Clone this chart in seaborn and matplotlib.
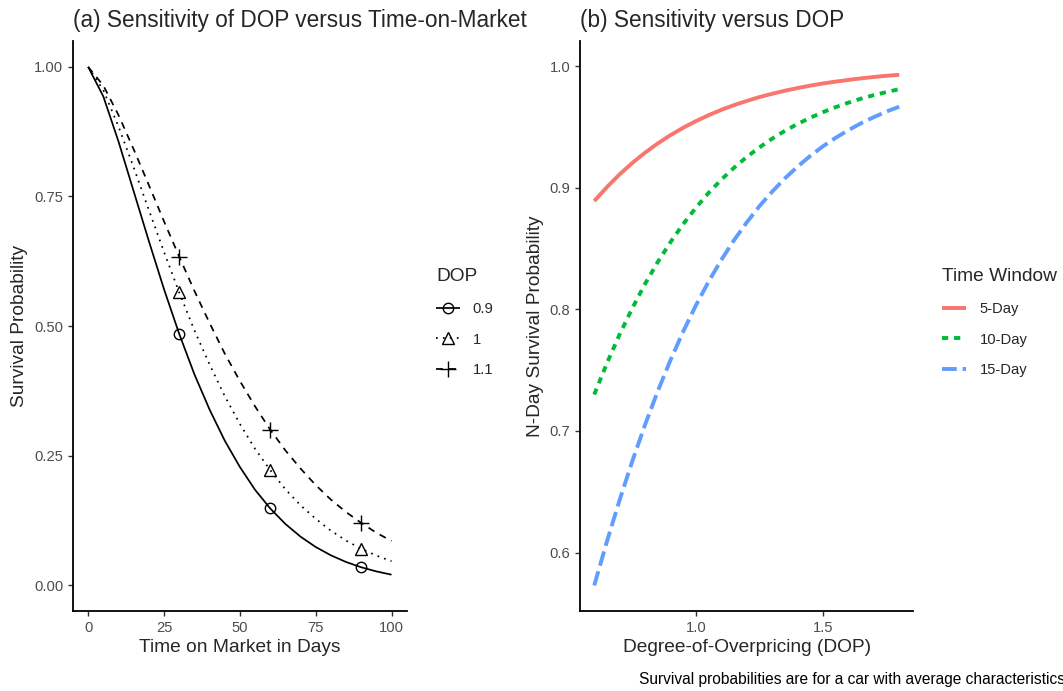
import numpy as np
import pandas as pd
import matplotlib
matplotlib.use("Agg")
import matplotlib.pyplot as plt
from matplotlib.lines import Line2D
import seaborn as sns

# ---------------- Panel (a): survival vs time on market ----------------
days = [0, 5, 10, 15, 20, 25, 30, 35, 40, 45, 50, 55, 60, 65, 70, 75, 80, 85, 90, 95, 100]
surv_dop_09 = [1.000, 0.943, 0.856, 0.760, 0.664, 0.571, 0.485, 0.407, 0.339, 0.279, 0.228,
               0.184, 0.148, 0.118, 0.0935, 0.0735, 0.0575, 0.0446, 0.0344, 0.0264, 0.0201]
surv_dop_10 = [1.000, 0.955, 0.885, 0.806, 0.724, 0.643, 0.565, 0.492, 0.426, 0.365, 0.311,
               0.263, 0.222, 0.185, 0.154, 0.128, 0.105, 0.086, 0.070, 0.057, 0.046]
surv_dop_11 = [1.000, 0.964, 0.907, 0.841, 0.772, 0.702, 0.634, 0.568, 0.506, 0.447, 0.394,
               0.345, 0.300, 0.260, 0.225, 0.193, 0.165, 0.141, 0.120, 0.101, 0.085]
dop_levels = ["0.9", "1", "1.1"]
marker_days = [30, 60, 90]

# ---------------- Panel (b): N-day survival vs DOP ----------------
dop_grid = [0.60, 0.65, 0.70, 0.75, 0.80, 0.85, 0.90, 0.95, 1.00, 1.05, 1.10, 1.15, 1.20,
            1.25, 1.30, 1.35, 1.40, 1.45, 1.50, 1.55, 1.60, 1.65, 1.70, 1.75, 1.80]
surv_5day = [0.8890, 0.9005, 0.9110, 0.9204, 0.9288, 0.9364, 0.9432, 0.9493, 0.9547, 0.9596,
             0.9640, 0.9679, 0.9713, 0.9745, 0.9772, 0.9797, 0.9819, 0.9839, 0.9857, 0.9872,
             0.9886, 0.9899, 0.9910, 0.9920, 0.9928]
surv_10day = [0.7300, 0.7557, 0.7794, 0.8010, 0.8209, 0.8389, 0.8552, 0.8701, 0.8835, 0.8957,
              0.9066, 0.9164, 0.9252, 0.9331, 0.9403, 0.9467, 0.9524, 0.9575, 0.9621, 0.9662,
              0.9699, 0.9732, 0.9761, 0.9786, 0.9810]
surv_15day = [0.5730, 0.6092, 0.6433, 0.6753, 0.7051, 0.7327, 0.7582, 0.7817, 0.8032, 0.8228,
              0.8406, 0.8568, 0.8714, 0.8848, 0.8967, 0.9076, 0.9173, 0.9261, 0.9340, 0.9410,
              0.9473, 0.9530, 0.9580, 0.9626, 0.9666]
windows = ["5-Day", "10-Day", "15-Day"]

a_xticks = [0, 25, 50, 75, 100]
a_yticks = [0.00, 0.25, 0.50, 0.75, 1.00]
a_yticklabels = ["0.00", "0.25", "0.50", "0.75", "1.00"]
b_xticks = [1.0, 1.5]
b_xticklabels = ["1.0", "1.5"]
b_yticks = [0.6, 0.7, 0.8, 0.9, 1.0]
b_yticklabels = ["0.6", "0.7", "0.8", "0.9", "1.0"]

# ---------------- Styling ----------------
sns.set_theme(style="ticks")
plt.rcParams["font.family"] = ["Liberation Sans", "DejaVu Sans"]
plt.rcParams["lines.solid_capstyle"] = "butt"
plt.rcParams["lines.dash_capstyle"] = "butt"

W, H = 1063, 691
fig = plt.figure(figsize=(W / 100, H / 100), dpi=100)
fig.patch.set_facecolor("white")

AX_TOP, AX_BOT = 41, 611
ax1 = fig.add_axes([73 / W, 1 - AX_BOT / H, (406.7 - 73) / W, (AX_BOT - AX_TOP) / H])
ax2 = fig.add_axes([580 / W, 1 - AX_BOT / H, (913.4 - 580) / W, (AX_BOT - AX_TOP) / H])

TICK_FS = 10.6
LAB_FS = 13.8
TITLE_FS = 16.3

# Panel (a)
dfa = pd.DataFrame({
    "days": days * 3,
    "surv": surv_dop_09 + surv_dop_10 + surv_dop_11,
    "dop": [dop_levels[0]] * len(days) + [dop_levels[1]] * len(days) + [dop_levels[2]] * len(days),
})
a_styles = {"0.9": "-", "1": (0, (1, 3)), "1.1": (0, (4, 3.5))}
a_markers = {"0.9": ("o", 7.5), "1": ("^", 8.5), "1.1": ("+", 11)}
mark_idx = [days.index(d) for d in marker_days]
a_lw = 1.25
for lvl in dop_levels:
    sub = dfa[dfa["dop"] == lvl].reset_index(drop=True)
    mk, ms = a_markers[lvl]
    sns.lineplot(data=sub, x="days", y="surv", ax=ax1, color="black", lw=a_lw,
                 linestyle=a_styles[lvl], errorbar=None, legend=False,
                 marker=mk, markevery=mark_idx, ms=ms, mfc="none", mec="black", mew=1.0)

ax1.set_xlim(-5, 105)
ax1.set_ylim(-0.05, 1.05)
ax1.set_xticks(a_xticks)
ax1.set_yticks(a_yticks)
ax1.set_yticklabels(a_yticklabels)
ax1.set_xlabel("Time on Market in Days", fontsize=LAB_FS, labelpad=3)
ax1.set_ylabel("Survival Probability", fontsize=LAB_FS, labelpad=4)
ax1.set_title("(a) Sensitivity of DOP versus Time-on-Market", loc="left",
              fontsize=TITLE_FS, pad=10)

# Panel (b)
dfb = pd.DataFrame({
    "dop": dop_grid * 3,
    "surv": surv_5day + surv_10day + surv_15day,
    "window": [windows[0]] * len(dop_grid) + [windows[1]] * len(dop_grid) + [windows[2]] * len(dop_grid),
})
b_palette = {"5-Day": "#F8766D", "10-Day": "#00BA38", "15-Day": "#619CFF"}
b_dashes = {"5-Day": "", "10-Day": (1.6, 1.5), "15-Day": (3.8, 1.5)}
b_lw = 2.8
sns.lineplot(data=dfb, x="dop", y="surv", hue="window", style="window",
             hue_order=windows, style_order=windows, palette=b_palette,
             dashes=b_dashes, lw=b_lw, ax=ax2, errorbar=None, legend=False)

ax2.set_xlim(0.544, 1.856)
ax2.set_ylim(0.552, 1.0206)
ax2.set_xticks(b_xticks)
ax2.set_xticklabels(b_xticklabels)
ax2.set_yticks(b_yticks)
ax2.set_yticklabels(b_yticklabels)
ax2.set_xlabel("Degree-of-Overpricing (DOP)", fontsize=LAB_FS, labelpad=3)
ax2.set_ylabel("N-Day Survival Probability", fontsize=LAB_FS, labelpad=4)
ax2.set_title("(b) Sensitivity versus DOP", loc="left", fontsize=TITLE_FS, pad=10)

for ax in (ax1, ax2):
    sns.despine(ax=ax)
    ax.spines["left"].set_linewidth(1.3)
    ax.spines["bottom"].set_linewidth(1.3)
    ax.spines["left"].set_color("black")
    ax.spines["bottom"].set_color("black")
    ax.tick_params(axis="both", labelsize=TICK_FS, colors="#333333", labelcolor="#4D4D4D",
                   length=3.5, width=1.0, pad=3.5)
    ax.set_facecolor("white")
    ax.grid(False)

# Legends
a_handles = []
for lvl in dop_levels:
    mk, ms = a_markers[lvl]
    a_handles.append(Line2D([], [], color="black", lw=a_lw, linestyle=a_styles[lvl],
                            marker=mk, ms=ms, mfc="none", mec="black", mew=1.0))
leg1 = fig.legend(a_handles, dop_levels, title="DOP", loc="upper left",
                  bbox_to_anchor=(436 / W, 1 - 268 / H), frameon=False,
                  fontsize=TICK_FS, title_fontsize=LAB_FS, handlelength=1.65,
                  handletextpad=0.85, labelspacing=1.14, borderpad=0, borderaxespad=0,
                  numpoints=1, alignment="left")

b_handles = []
for w in windows:
    if b_dashes[w] == "":
        b_handles.append(Line2D([], [], color=b_palette[w], lw=b_lw, linestyle="-"))
    else:
        b_handles.append(Line2D([], [], color=b_palette[w], lw=b_lw, dashes=b_dashes[w]))
leg2 = fig.legend(b_handles, windows, title="Time Window", loc="upper left",
                  bbox_to_anchor=(942 / W, 1 - 268 / H), frameon=False,
                  fontsize=TICK_FS, title_fontsize=LAB_FS, handlelength=1.65,
                  handletextpad=0.9, labelspacing=1.14, borderpad=0, borderaxespad=0,
                  alignment="left")

fig.text(639 / W, 1 - 684 / H, "Survival probabilities are for a car with average characteristics",
         ha="left", va="baseline", fontsize=11.2, color="black")

fig.savefig("out.png", dpi=100, facecolor="white")
